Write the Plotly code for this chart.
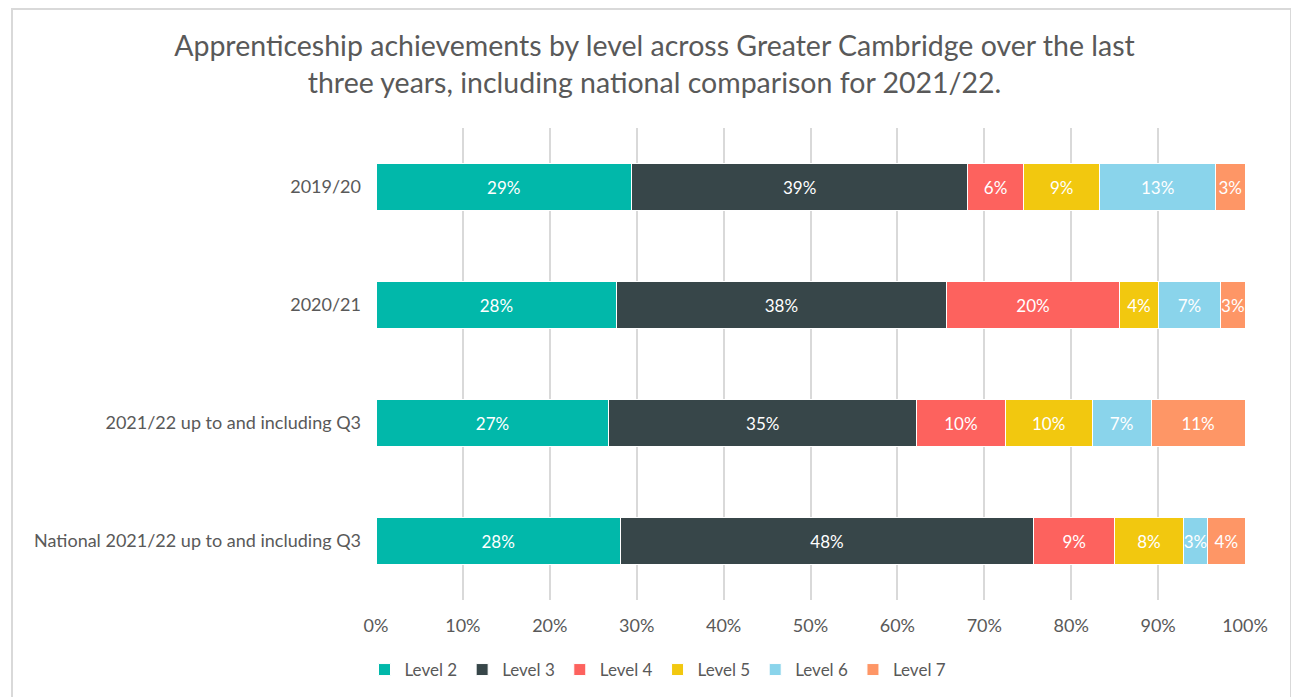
import plotly.graph_objects as go

categories = ["2019/20", "2020/21", "2021/22 up to and including Q3", "National 2021/22 up to and including Q3"]
levels = ["Level 2", "Level 3", "Level 4", "Level 5", "Level 6", "Level 7"]
level2 = [29.4, 27.7, 26.8, 28.1]
level3 = [38.7, 37.9, 35.4, 47.6]
level4 = [6.4, 20.0, 10.2, 9.3]
level5 = [8.8, 4.4, 10.0, 7.9]
level6 = [13.3, 7.2, 6.8, 2.8]
level7 = [3.4, 2.8, 10.8, 4.3]
series = [level2, level3, level4, level5, level6, level7]
colors = ["#01B8AA", "#374649", "#FD625E", "#F2C80F", "#8AD4EB", "#FE9666"]
tick_vals = [0, 10, 20, 30, 40, 50, 60, 70, 80, 90, 100]
tick_text = [f"{v}%" for v in tick_vals]

FONT = "Lato"
# page body has an 8px margin; figure coords = screen coords - 8
L, R, T, B = 368, 62, 120, 105
PW, PH = 1299 - L - R, 697 - T - B

fig = go.Figure()
for name, vals, col in zip(levels, series, colors):
    fig.add_trace(go.Bar(
        y=categories, x=vals, name=name, orientation="h",
        marker=dict(color=col, line=dict(color="white", width=1)),
        text=[f"{round(v)}%" for v in vals], textposition="inside",
        insidetextanchor="middle", textangle=0,
        textfont=dict(color="white", size=17, family=FONT),
        constraintext="none",
    ))

fig.update_layout(
    barmode="stack", bargap=0.6,
    width=1299, height=697,
    margin=dict(l=L, r=R, t=T, b=B, autoexpand=False),
    paper_bgcolor="white", plot_bgcolor="white",
    font=dict(family=FONT, color="#595959"),
    title=dict(text="Apprenticeship achievements by level across Greater Cambridge over the last<br>three years, including national comparison for 2021/22.",
               x=646.5 / 1299, xanchor="center", y=1 - 48 / 697, yanchor="middle",
               font=dict(size=28.5, family=FONT, color="#595959")),
    legend=dict(orientation="h", x=(650 - L) / PW, xanchor="center",
                y=(697 - B - 662) / PH, yanchor="middle",
                font=dict(size=17, family=FONT, color="#595959"), traceorder="normal",
                itemwidth=30),
    uniformtext=dict(mode=False),
)
fig.update_xaxes(range=[0, 100], tickvals=tick_vals, ticktext=tick_text,
                 showgrid=True, gridcolor="#D9D9D9", gridwidth=2,
                 zeroline=False, showline=False, tickfont=dict(size=18, family=FONT, color="#595959"),
                 ticks="", ticklabelstandoff=13)
fig.update_yaxes(autorange="reversed", tickfont=dict(size=18, family=FONT, color="#595959"),
                 ticks="", ticklabelstandoff=14, showgrid=False)
fig.add_shape(type="rect", xref="paper", yref="paper",
              x0=(4 - L) / PW, x1=(1283 - L) / PW,
              y0=(697 - B - 720) / PH, y1=(697 - B - 1) / PH,
              line=dict(color="#D9D9D9", width=2), layer="below")
fig.write_html("out.html")
